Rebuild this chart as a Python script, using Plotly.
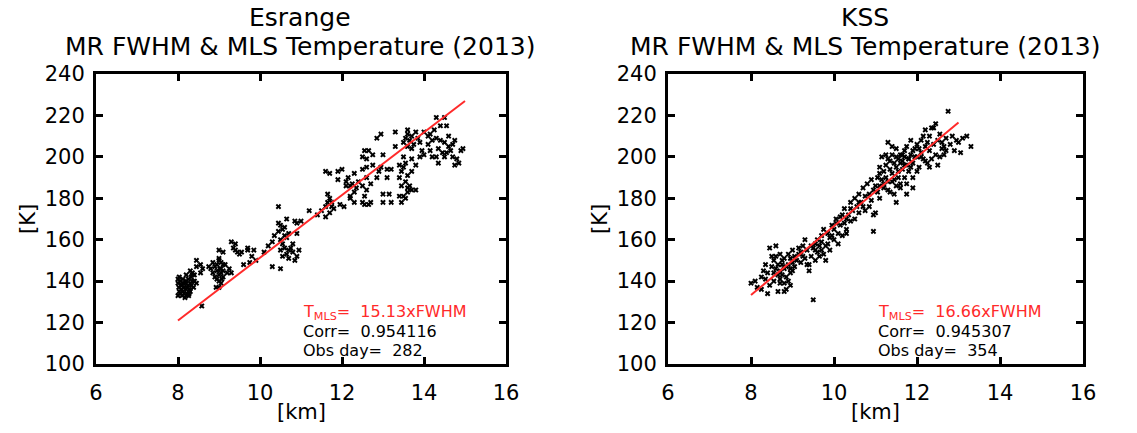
import plotly.graph_objects as go

# ---------------- data ----------------
esr_fwhm = [8.0,8.0,8.02,8.03,8.0,8.05,8.08,8.1,8.1,8.12,8.15,8.15,8.18,8.2,8.2,8.22,8.25,8.25,8.28,8.3,8.3,8.32,8.35,8.38,8.4,8.05,8.07,8.13,8.17,8.22,8.27,8.33,8.12,8.03,8.2,8.35,8.45,8.26,
            8.2,8.3,8.35,8.45,8.45,8.55,8.6,8.55,8.4,8.58,
            8.75,8.8,8.85,8.9,8.9,8.95,9.0,9.0,9.0,9.05,9.05,9.1,9.1,9.0,8.95,9.05,9.1,8.85,9.0,9.05,8.95,9.1,9.0,9.15,9.2,8.93,9.02,9.07,
            9.3,9.4,9.35,9.45,9.5,9.55,9.4,9.25,9.3,9.6,9.7,9.8,9.75,9.9,9.85,9.7,
            10.1,10.2,10.3,10.35,10.3,10.5,10.45,10.5,10.45,10.55,10.6,10.5,10.55,10.6,10.65,10.7,10.5,10.55,10.65,10.7,10.75,10.8,10.8,10.7,10.85,10.9,10.95,10.45,10.6,10.65,10.85,10.9,11.0,10.9,
            11.2,11.4,11.5,11.6,11.6,11.65,11.7,11.7,11.65,11.75,11.8,11.75,11.6,11.7,11.9,11.9,12.0,11.95,12.05,12.1,12.1,12.15,12.2,12.25,12.2,12.3,12.35,12.3,12.4,12.2,12.3,12.5,12.55,12.55,12.65,12.7,12.5,12.6,12.6,12.7,12.5,12.6,12.55,12.65,12.5,12.6,12.75,12.75,12.9,12.85,12.95,12.95,12.85,13.0,13.1,13.15,13.0,13.0,13.2,13.1,13.2,
            13.3,13.3,13.5,13.55,13.6,13.6,13.65,13.7,13.7,13.75,13.8,13.85,13.9,13.6,13.4,13.45,13.5,13.55,13.6,13.7,13.55,13.4,13.45,13.6,13.7,13.8,13.5,13.4,13.45,13.55,13.6,13.65,13.5,13.7,13.8,13.9,13.95,
            14.0,14.1,14.15,14.2,14.25,14.3,14.35,14.3,14.4,14.5,14.55,14.4,14.5,14.6,14.65,14.7,14.75,14.5,14.55,14.7,14.8,14.75,14.85,14.9,14.95,14.6,14.45,14.3,14.2,14.1,14.15,14.0,14.35]
esr_temp = [141,139,137,135,133,134,136,138,133,135,134,137,139,136,133,134,138,141,136,135,139,142,140,137,140,140,138,139,132,137,134,138,141,142,140,143,139,133,
            143,145,144,147,150,148,146,144,143,128,
            147,146,144,147,142,145,143,140,137,146,149,145,142,150,148,139,148,149,151,144,141,154,155,148,144,137,146,141,
            159,158,156,154,153,154,155,146,144,148,156,152,149,150,155,155,
            154,157,159,162,147,146,164,167,168,165,166,160,158,156,161,163,155,152,153,155,156,158,154,151,150,152,155,176,162,170,169,168,169,163,
            174,172,174,171,176,178,173,180,182,176,175,178,193,192,193,189,194,177,176,186,188,190,186,187,181,183,185,192,188,180,178,178,181,177,177,178,186,184,190,187,194,195,203,203,200,199,201,196,193,190,195,211,209,201,194,182,182,178,178,190,194,
            205,212,207,209,211,205,208,204,210,206,212,209,207,213,196,193,195,197,191,193,188,190,186,185,184,184,181,181,178,180,183,186,200,199,196,200,203,
            212,210,211,208,213,209,204,219,215,219,215,208,207,205,203,206,208,200,202,200,199,196,197,203,204,210,202,200,200,206,203,201,197]

kss_fwhm = [8.0,8.1,8.15,8.25,8.3,8.35,8.4,8.45,8.5,8.55,8.55,8.6,8.6,8.65,8.7,8.7,8.75,8.75,8.8,8.8,8.85,8.85,8.9,8.9,8.95,8.95,9.0,9.0,8.6,8.65,8.45,8.5,8.7,8.9,8.8,8.95,
            9.05,9.1,9.15,9.2,9.25,9.3,9.3,9.35,9.4,9.4,9.45,9.5,9.5,9.55,9.55,9.6,9.6,9.65,9.65,9.7,9.7,9.75,9.75,9.8,9.8,9.85,9.9,9.9,9.95,
            10.0,10.0,10.05,10.05,10.1,10.1,10.15,10.2,10.2,10.25,10.25,10.3,10.3,10.35,10.4,10.4,10.45,10.5,10.5,10.55,10.6,10.6,10.65,10.7,10.7,10.75,10.8,10.85,10.9,10.9,10.95,11.0,11.0,10.95,
            11.05,11.05,11.1,11.1,11.1,11.15,11.15,11.2,11.2,11.2,11.25,11.25,11.3,11.3,11.3,11.35,11.35,11.4,11.4,11.45,11.45,11.5,11.5,11.5,11.55,11.55,11.6,11.6,11.65,11.65,11.7,11.7,11.7,11.75,11.75,11.8,11.8,11.85,11.85,11.9,11.9,11.95,
            12.0,12.0,12.05,12.1,12.1,12.15,12.2,12.2,12.25,12.3,12.3,12.35,12.4,12.4,12.45,12.5,12.5,12.55,12.6,12.6,12.65,12.7,12.7,12.75,12.8,12.85,12.9,12.95,13.0,13.1,13.2,13.3,13.05,
            11.4,11.5,11.6,11.3,11.45,11.55,11.75,11.85,11.95,12.0,12.05,12.15,11.9,11.8,11.65,11.7,11.6,11.5,11.35,11.25,11.4,12.25,12.35,12.45,12.55,12.65,12.3,12.2,12.1,11.9,11.75,11.1,
            10.85,10.75,10.95,10.6,10.4,10.3,10.15,9.95,9.85,9.7,9.55,9.45,9.35,9.2,9.15,9.05,8.95,8.85,8.75,8.65,8.55,8.4,8.35,8.25,8.8,8.7,9.0,9.25]
kss_temp = [139,140,137,142,145,141,134,138,147,150,144,146,152,148,145,141,143,150,146,139,142,136,148,153,151,144,149,155,157,135,156,152,153,140,135,138,
            152,150,156,154,157,151,160,155,148,145,152,156,131,158,150,154,160,157,152,155,159,153,165,150,157,163,161,155,167,
            165,160,168,170,163,158,167,172,162,175,168,170,165,172,169,178,174,170,180,176,182,173,178,185,176,181,187,182,179,189,184,186,173,164,
            190,183,192,195,186,189,200,193,187,185,196,190,207,199,188,194,183,192,201,197,189,204,195,178,199,193,201,187,198,194,203,200,190,196,205,199,193,201,208,197,190,204,
            200,206,195,202,208,199,213,205,197,210,203,199,206,214,201,208,196,211,204,207,201,209,203,222,206,210,203,208,207,209,210,205,202,
            188,186,185,184,182,190,187,195,200,193,204,210,203,199,201,196,197,200,198,201,205,207,214,216,200,205,195,198,200,185,182,180,
            176,174,172,178,175,163,171,162,158,162,155,157,148,149,153,147,146,147,148,143,140,144,148,136,151,139,145,152]

esr_slope = 15.13
kss_slope = 16.66
esr_fit_range = [8.0, 15.0]
kss_fit_range = [8.0, 13.0]

esr_corr = "0.954116"
kss_corr = "0.945307"
esr_days = 282
kss_days = 354

x_ticks = [6, 8, 10, 12, 14, 16]
y_ticks = [100, 120, 140, 160, 180, 200, 220, 240]

# ---------------- figure ----------------
W, H = 1137, 433
FONT = "DejaVu Sans"
fig = go.Figure()

panels = [
    dict(x=esr_fwhm, y=esr_temp, slope=esr_slope, rng=esr_fit_range, corr=esr_corr, days=esr_days,
         xa="x", ya="y", dom=[96 / W, 506 / W], title="Esrange", tcx=300),
    dict(x=kss_fwhm, y=kss_temp, slope=kss_slope, rng=kss_fit_range, corr=kss_corr, days=kss_days,
         xa="x2", ya="y2", dom=[668 / W, 1083 / W], title="KSS", tcx=865),
]
ydom = [1 - 364 / H, 1 - 74 / H]


def ann(x, y, text, size, color="black", xref="paper", xanchor="center", angle=0):
    fig.add_annotation(x=x, y=y, xref=xref, yref="paper", text=text, showarrow=False,
                       xanchor=xanchor, yanchor="middle", textangle=angle,
                       font=dict(family=FONT, size=size, color=color))


for i, p in enumerate(panels):
    fig.add_trace(go.Scatter(x=p["x"], y=p["y"], mode="markers", xaxis=p["xa"], yaxis=p["ya"],
                             marker=dict(symbol="x", size=5, color="black", line=dict(width=0)),
                             showlegend=False, hoverinfo="skip"))
    fx = p["rng"]
    fy = [p["slope"] * v for v in fx]
    fig.add_trace(go.Scatter(x=fx, y=fy, mode="lines", xaxis=p["xa"], yaxis=p["ya"],
                             line=dict(color="#ff2a2a", width=2), showlegend=False, hoverinfo="skip"))
    suffix = "" if i == 0 else str(i + 1)
    axstyle = dict(showline=True, linewidth=3, linecolor="black", mirror="ticks",
                   ticks="inside", ticklen=7, tickwidth=3, tickcolor="black",
                   showgrid=False, zeroline=False, automargin=False,
                   tickfont=dict(family=FONT, size=21, color="black"))
    fig.layout["xaxis" + suffix] = dict(domain=p["dom"], range=[6, 16], tickvals=x_ticks,
                                        anchor="y" + suffix, ticklabelstandoff=8, **axstyle)
    fig.layout["yaxis" + suffix] = dict(domain=ydom, range=[100, 240], tickvals=y_ticks,
                                        anchor="x" + suffix, ticklabelstandoff=4, **axstyle)
    cx = p["tcx"] / W
    ann(cx, 1 - 18 / H, p["title"], 25)
    ann(cx, 1 - 46 / H, "MR FWHM &amp; MLS Temperature (2013)", 25)
    ann((p["dom"][0] + p["dom"][1]) / 2, 1 - 412 / H, "[km]", 21)
    ann(p["dom"][0] - 68 / W, 1 - 219 / H, "[K]", 21, angle=-90)
    # stats text
    tx = 11.0
    ann(tx, 1 - 312 / H, f"T<sub>MLS</sub>=  {p['slope']:.2f}xFWHM", 16, color="#ff2a2a",
        xref=p["xa"], xanchor="left")
    ann(tx, 1 - 331 / H, f"Corr=  {p['corr']}", 16, xref=p["xa"], xanchor="left")
    ann(tx, 1 - 350 / H, f"Obs day=  {p['days']}", 16, xref=p["xa"], xanchor="left")

fig.update_layout(width=W, height=H, margin=dict(l=0, r=0, t=0, b=0),
                  paper_bgcolor="white", plot_bgcolor="white")
fig.write_html("out.html", config={"responsive": False},
               post_script="document.body.style.margin='0';document.body.style.overflow='hidden';")
